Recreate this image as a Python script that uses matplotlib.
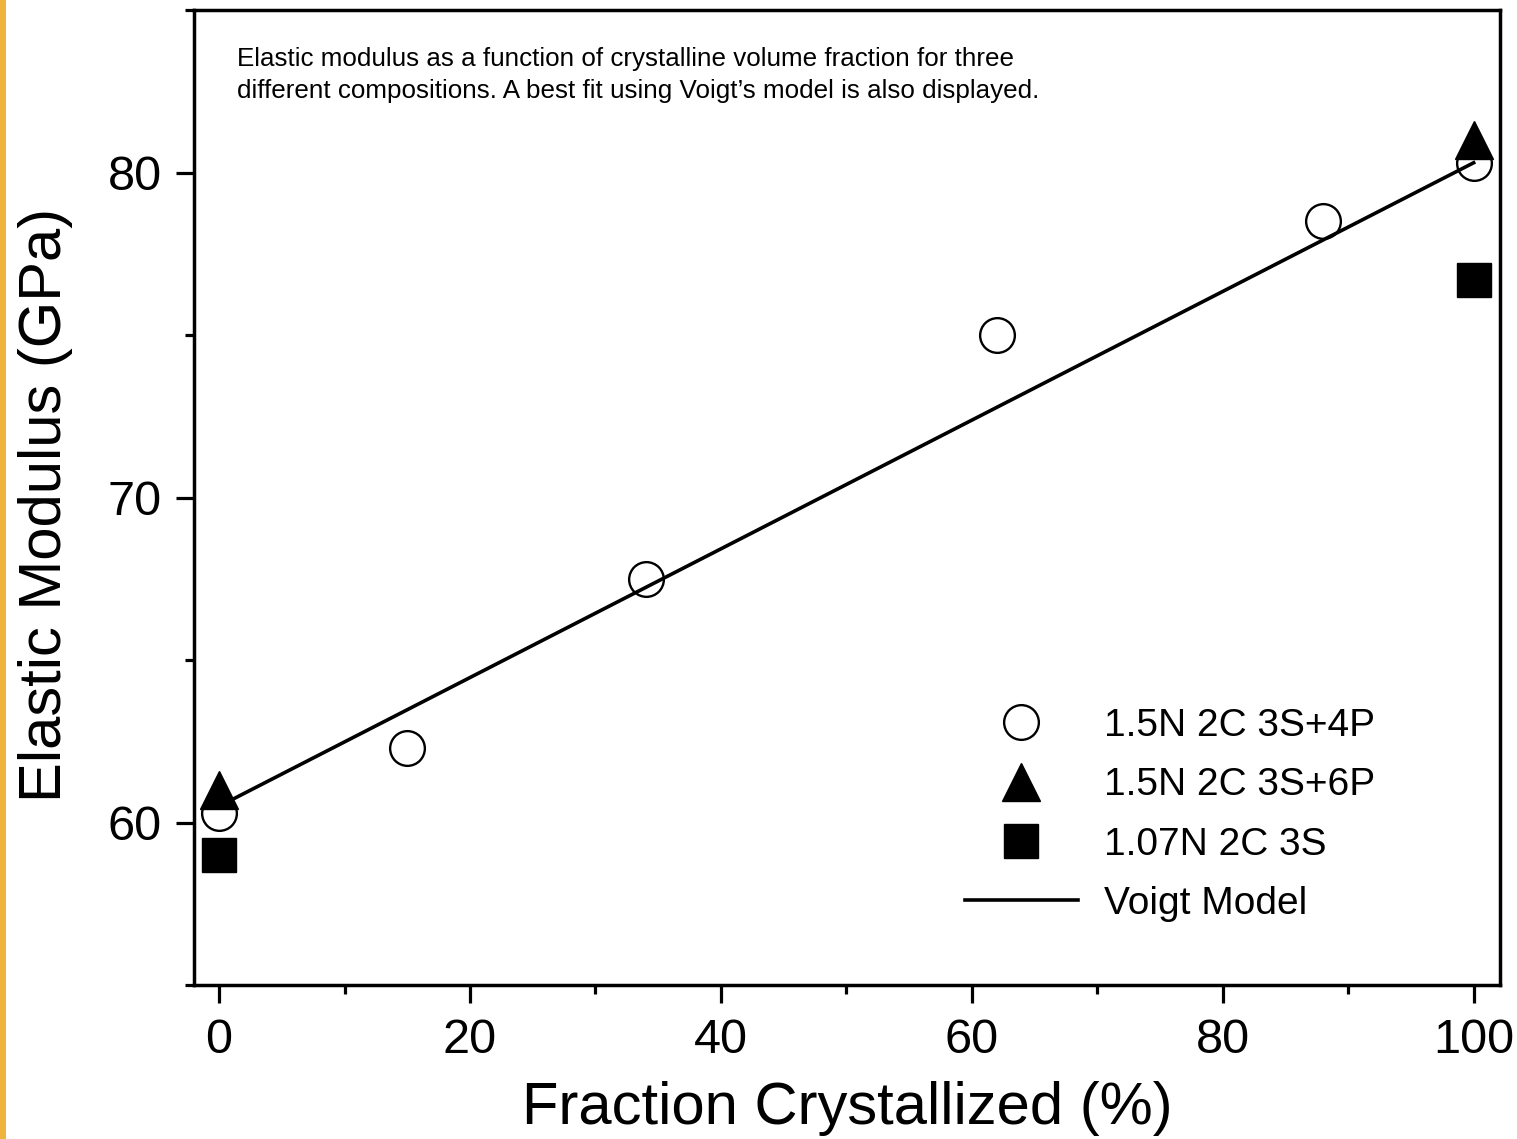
import matplotlib
matplotlib.use("Agg")
import matplotlib.pyplot as plt
from matplotlib.patches import Rectangle
from matplotlib.ticker import MultipleLocator

plt.rcParams['font.family'] = ['Liberation Sans', 'DejaVu Sans']

# Data
x_4p = [0, 15, 34, 62, 88, 100]
y_4p = [60.3, 62.3, 67.5, 75.0, 78.5, 80.3]
x_6p = [0, 100]
y_6p = [61.0, 81.0]
x_3s = [0, 100]
y_3s = [59.0, 76.7]
x_voigt = [0, 100]
y_voigt = [60.5, 80.3]

labels = ['1.5N 2C 3S+4P', '1.5N 2C 3S+6P', '1.07N 2C 3S', 'Voigt Model']
caption = ("Elastic modulus as a function of crystalline volume fraction for three\n"
           "different compositions. A best fit using Voigt\u2019s model is also displayed.")

W, H = 1517, 1139
fig = plt.figure(figsize=(W / 100, H / 100), dpi=100)
ax = fig.add_axes([194 / W, 1 - 985 / H, (1500 - 194) / W, (985 - 10) / H])

# orange stripe at left edge
fig.patches.append(Rectangle((0, 0), 6 / W, 1, transform=fig.transFigure,
                             facecolor='#EFB43C', edgecolor='none', zorder=0))

h_line, = ax.plot(x_voigt, y_voigt, color='black', lw=2.6, zorder=2)
h_circ, = ax.plot(x_4p, y_4p, linestyle='none', marker='o', ms=25,
                  mfc='none', mec='black', mew=1.7, zorder=3)
h_tri, = ax.plot(x_6p, y_6p, linestyle='none', marker='^', ms=28,
                 color='black', zorder=4)
h_sq, = ax.plot(x_3s, y_3s, linestyle='none', marker='s', ms=24,
                color='black', zorder=4)

ax.set_xlim(-2, 102.1)
ax.set_ylim(55, 85)
ax.xaxis.set_major_locator(MultipleLocator(20))
ax.xaxis.set_minor_locator(MultipleLocator(10))
ax.yaxis.set_minor_locator(MultipleLocator(5))
ax.set_yticks([60, 70, 80])

for s in ax.spines.values():
    s.set_linewidth(2.5)

ax.tick_params(axis='both', which='major', direction='out', length=13, width=2.3,
               labelsize=35, top=False, right=False)
ax.tick_params(axis='both', which='minor', direction='out', length=6.5, width=2.3,
               top=False, right=False)
ax.tick_params(axis='x', which='major', pad=11)
ax.tick_params(axis='y', which='major', pad=10)

ax.set_xlabel('Fraction Crystallized (%)', fontsize=43, va='center')
ax.xaxis.set_label_coords(0.5, -0.127)
ax.set_ylabel('Elastic Modulus (GPa)', fontsize=43, va='center')
ax.yaxis.set_label_coords(-0.114, 0.492)

ax.text(237 / W, 1 - 47 / H, caption, transform=fig.transFigure, fontsize=18.7,
        ha='left', va='top', linespacing=1.42)

leg = ax.legend([h_circ, h_tri, h_sq, h_line], labels, loc='upper left',
                bbox_to_anchor=((965 - 194) / 1306, (985 - 708) / 975),
                frameon=False, fontsize=28, handlelength=2.9, handletextpad=0.67,
                labelspacing=0.6, borderpad=0, borderaxespad=0, numpoints=1)

fig.savefig('out.png', dpi=100)
